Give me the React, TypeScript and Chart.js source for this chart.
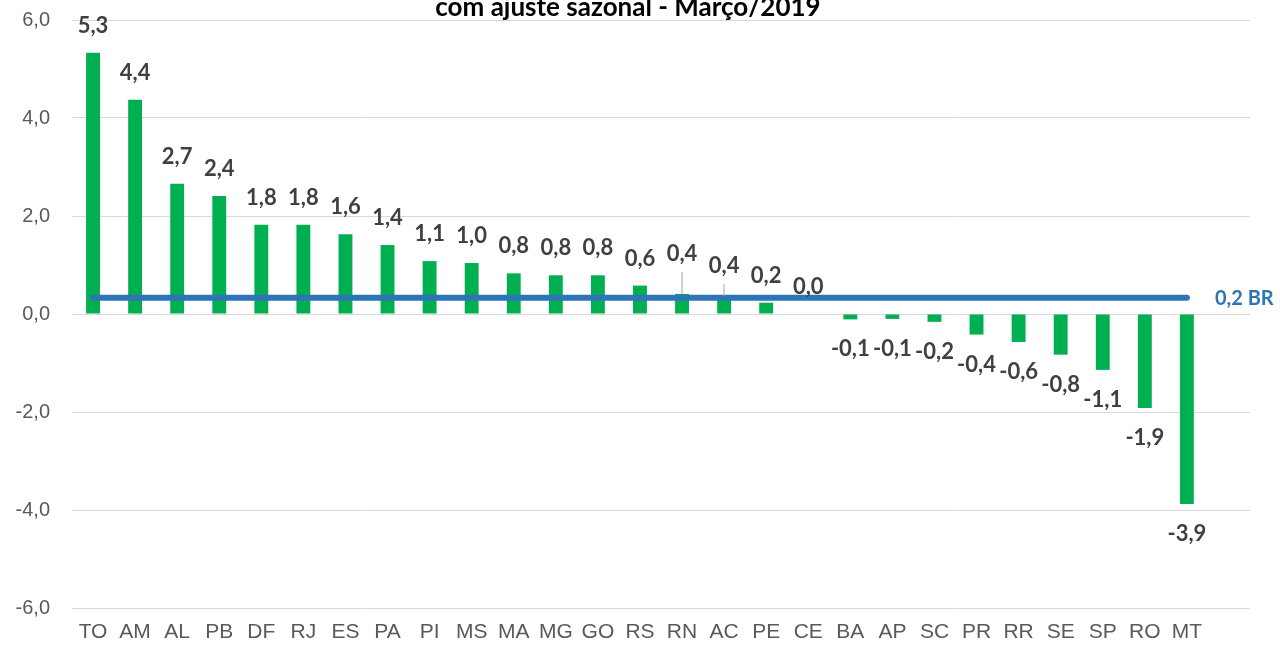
import React, { useEffect, useRef } from "react";
import { Chart, registerables } from "chart.js";

Chart.register(...registerables);

const categories = ["TO", "AM", "AL", "PB", "DF", "RJ", "ES", "PA", "PI", "MS", "MA", "MG", "GO", "RS", "RN", "AC", "PE", "CE", "BA", "AP", "SC", "PR", "RR", "SE", "SP", "RO", "MT"];
const values = [5.33, 4.37, 2.66, 2.41, 1.82, 1.82, 1.63, 1.41, 1.08, 1.04, 0.83, 0.79, 0.79, 0.58, 0.41, 0.37, 0.23, 0.0, -0.11, -0.1, -0.16, -0.42, -0.57, -0.83, -1.14, -1.92, -3.88];
const brLineValue = 0.33;
const brLabel = "0,2 BR";
const yTicks = [-6, -4, -2, 0, 2, 4, 6];
const titleText = "com ajuste sazonal - Março/2019";
const leaderLift: Record<string, number> = { RN: 13, AC: 3 };

const fmt = (v: number) => v.toFixed(1).replace(".", ",");
const LABEL_FONT = "bold 22px Lato, 'Open Sans', sans-serif";

const labelsPlugin = {
  id: "barLabels",
  afterDatasetsDraw(chart: any) {
    const ctx = chart.ctx;
    const meta = chart.getDatasetMeta(0);
    const y = chart.scales.y;
    ctx.save();
    ctx.font = LABEL_FONT;
    ctx.fillStyle = "#404040";
    ctx.textAlign = "center";
    ctx.textBaseline = "middle";
    meta.data.forEach((bar: any, i: number) => {
      const v = values[i];
      if (v === undefined) return;
      const x = bar.x;
      let ly;
      if (v >= 0) {
        const top = y.getPixelForValue(v);
        const lift = leaderLift[categories[i]] || 0;
        ly = top - 27 - lift;
        if (lift) {
          ctx.save();
          ctx.strokeStyle = "#a6a6a6";
          ctx.lineWidth = 1;
          ctx.beginPath();
          ctx.moveTo(x, ly + 18);
          ctx.lineTo(x, top);
          ctx.stroke();
          ctx.restore();
        }
      } else {
        ly = y.getPixelForValue(v) + 30;
      }
      ctx.fillText(fmt(v), x, ly);
    });
    const lineMeta = chart.getDatasetMeta(1);
    const last = lineMeta.data[lineMeta.data.length - 1];
    if (last) {
      ctx.fillStyle = "#2e75b6";
      ctx.font = "bold 20px Lato, 'Open Sans', sans-serif";
      ctx.textAlign = "left";
      ctx.fillText(brLabel, last.x + 28, y.getPixelForValue(brLineValue) + 1);
    }
    ctx.fillStyle = "#000000";
    ctx.font = "bold 26px Lato, 'Open Sans', sans-serif";
    ctx.textAlign = "center";
    ctx.textBaseline = "alphabetic";
    ctx.fillText(titleText, 628, 16);
    ctx.restore();
  },
};

export default function App() {
  const ref = useRef<HTMLCanvasElement>(null);
  useEffect(() => {
    document.body.style.margin = "0";
    const labels = [...categories, ""];
    const chart = new Chart(ref.current!, {
      type: "bar",
      data: {
        labels,
        datasets: [
          {
            type: "bar",
            data: [...values, null] as any,
            backgroundColor: "#00b050",
            barPercentage: 0.33,
            categoryPercentage: 1,
            order: 2,
          },
          {
            type: "line",
            data: categories.map(() => brLineValue),
            borderColor: "#2e75b6",
            borderWidth: 6,
            borderCapStyle: "round",
            pointRadius: 0,
            fill: false,
            order: 1,
          } as any,
        ],
      },
      options: {
        responsive: false,
        animation: false,
        layout: { padding: { left: 0, right: 30, top: 20, bottom: 0 } },
        plugins: { legend: { display: false }, tooltip: { enabled: false }, title: { display: false } },
        scales: {
          x: {
            grid: { display: false },
            border: { display: false },
            ticks: {
              color: "#595959",
              font: { size: 21, family: "'Liberation Sans', Arial, sans-serif" },
              padding: 4,
              maxRotation: 0,
              autoSkip: false,
            },
            afterFit: (s: any) => { s.height = 37; s.paddingLeft = 0; s.paddingRight = 0; },
          },
          y: {
            min: -6,
            max: 6,
            afterBuildTicks: (s: any) => { s.ticks = yTicks.map((v) => ({ value: v })); },
            grid: { color: "#d9d9d9", lineWidth: 1, drawTicks: false },
            border: { display: false },
            ticks: {
              color: "#595959",
              font: { size: 20, family: "'Liberation Sans', Arial, sans-serif" },
              padding: 22,
              callback: (v: any) => fmt(Number(v)),
            },
            afterFit: (s: any) => { s.width = 72; s.paddingTop = 0; s.paddingBottom = 0; },
          },
        },
      },
      plugins: [labelsPlugin],
    });
    return () => chart.destroy();
  }, []);
  return <canvas ref={ref} width={1280} height={645} style={{ display: "block" }} />;
}
